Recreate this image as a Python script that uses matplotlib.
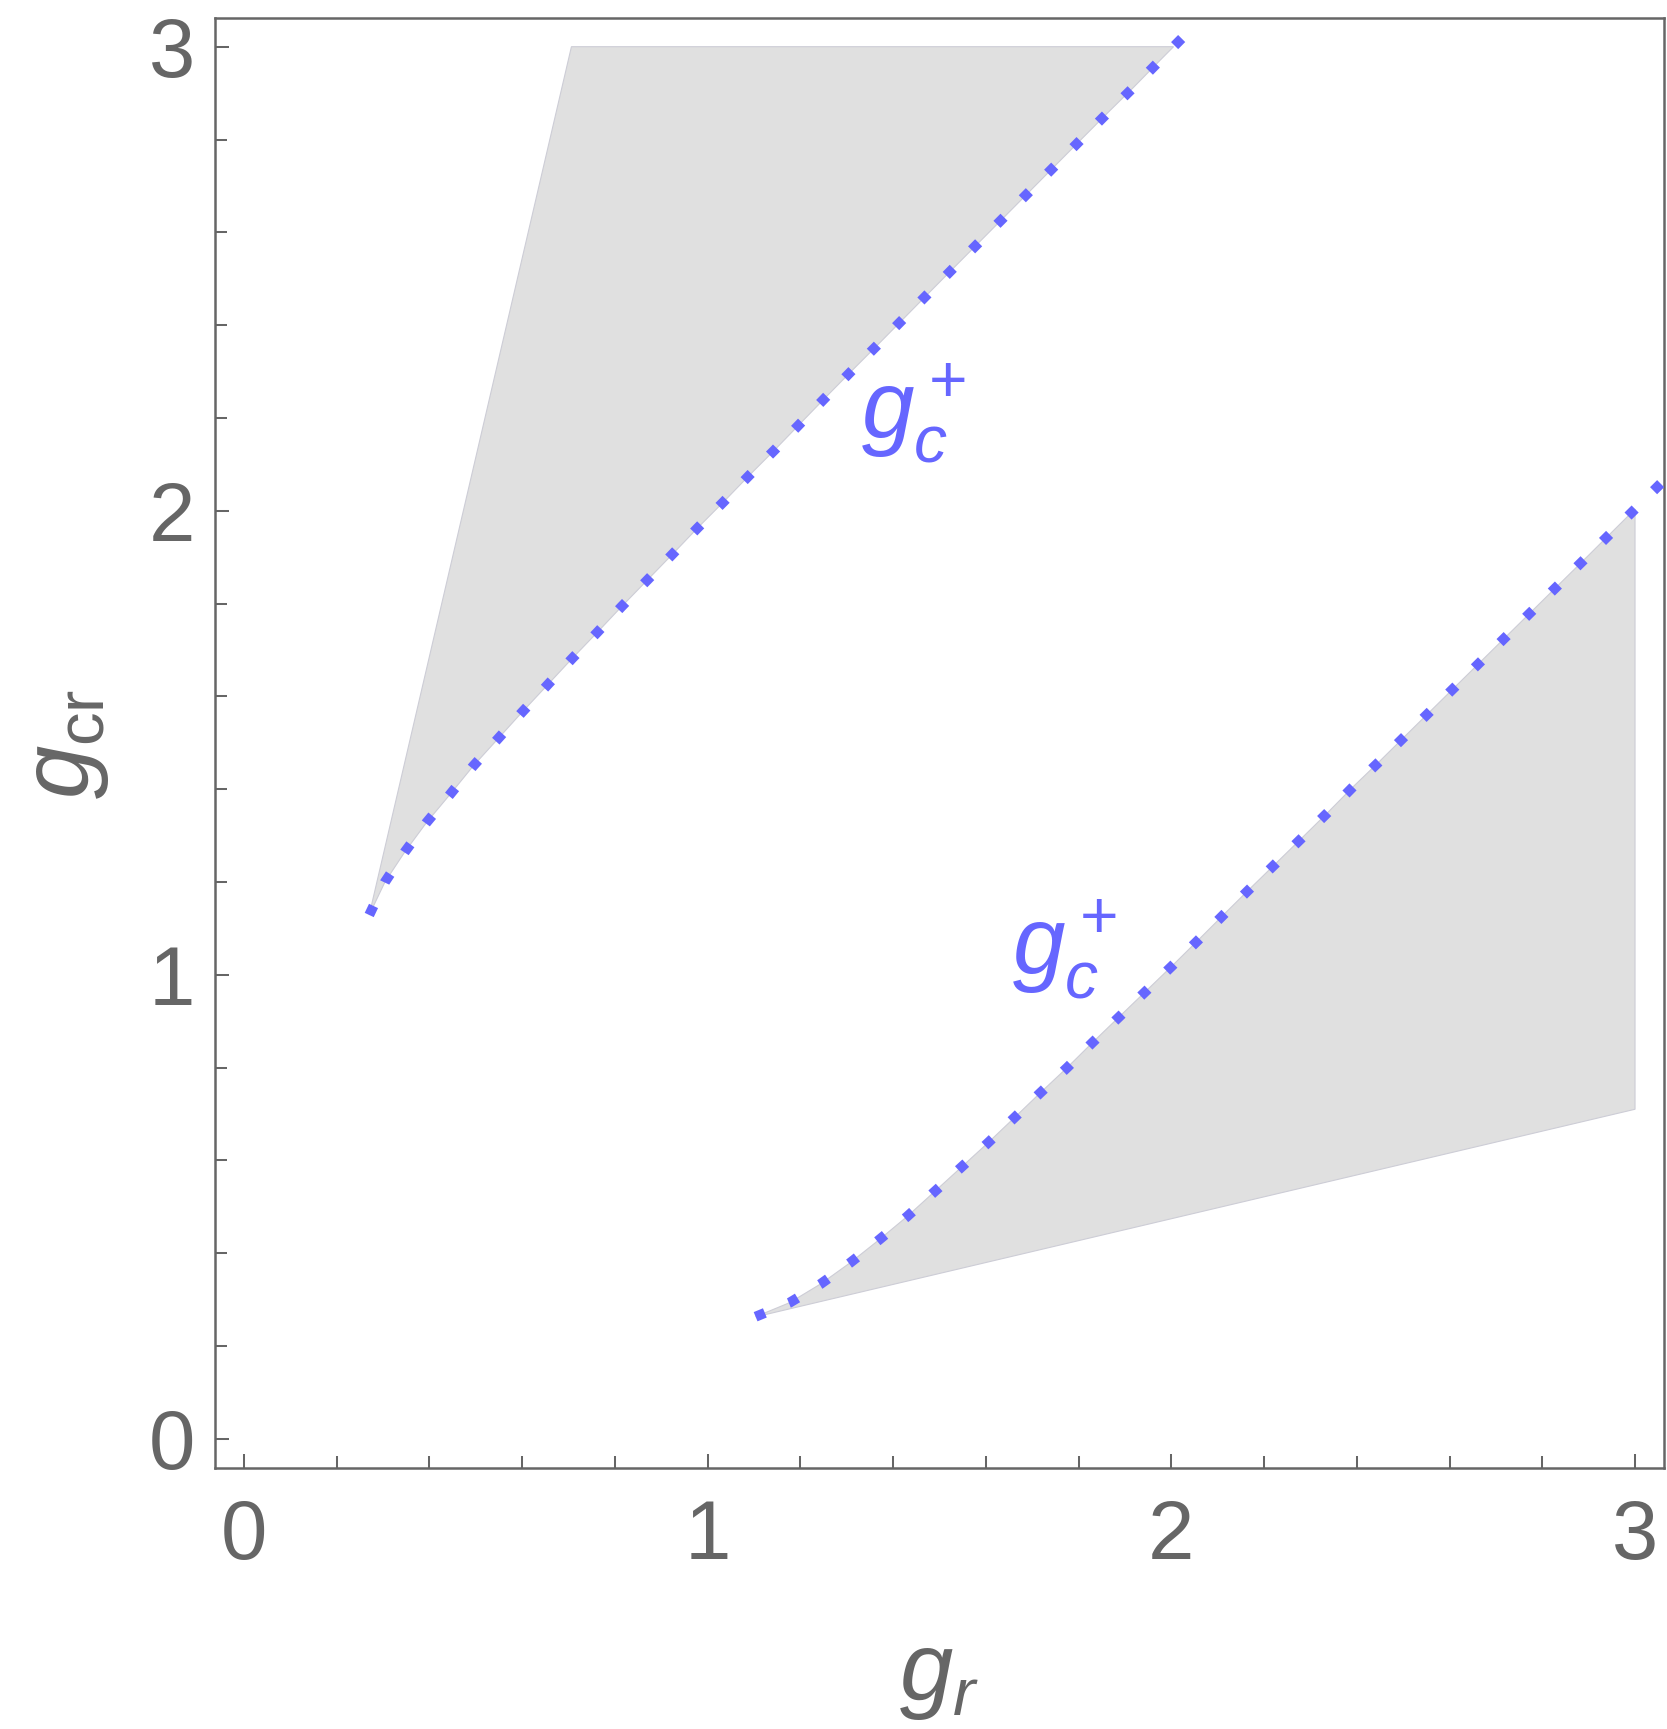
import numpy as np
import matplotlib
matplotlib.use("Agg")
import matplotlib.pyplot as plt
from matplotlib.ticker import MultipleLocator, FixedLocator, FixedFormatter

# ---------------- data ----------------
# upper critical line g_c^+  (g_r, g_cr)
upper_gr = [0.2701, 0.3039, 0.3470, 0.3937, 0.4440, 0.4942, 0.5467, 0.5991,
            0.6530, 0.7069, 0.7608, 0.8147, 0.8692, 0.9239, 0.9784, 1.0345,
            1.0890, 1.1444, 1.1989, 1.2537, 1.3089, 1.3649, 1.4196, 1.4748,
            1.5297, 1.5854, 1.6403, 1.6959, 1.7515, 1.8065, 1.8623, 1.9185,
            1.9735, 2.0291]
upper_gcr = [1.1287, 1.1996, 1.2649, 1.3280, 1.3881, 1.4496, 1.5073, 1.5651,
             1.6228, 1.6806, 1.7366, 1.7937, 1.8498, 1.9060, 1.9629, 2.0192,
             2.0754, 2.1308, 2.1871, 2.2435, 2.2996, 2.3556, 2.4110, 2.4670,
             2.5224, 2.5784, 2.6336, 2.6897, 2.7457, 2.8011, 2.8571, 2.9124,
             2.9685, 3.0245]

# lower critical line g_c^+  (g_r, g_cr)
lower_gr = [1.1034, 1.1767, 1.2435, 1.3075, 1.3692, 1.4296, 1.4877, 1.5460,
            1.6034, 1.6609, 1.7177, 1.7752, 1.8312, 1.9440, 2.0015, 2.0567,
            2.1121, 2.1681, 2.2241, 2.2809, 2.3369, 2.3922, 2.4483, 2.5043,
            2.7000, 2.9000, 3.0600]
lower_gcr = [0.2629, 0.2931, 0.3334, 0.3793, 0.4282, 0.4784, 0.5310, 0.5841,
             0.6366, 0.6912, 0.7457, 0.7996, 0.8550, 0.9634, 1.0188, 1.0733,
             1.1287, 1.1840, 1.2386, 1.2940, 1.3491, 1.4052, 1.4591, 1.5144,
             1.7070, 1.9040, 2.0630]

# straight outer edges of the shaded regions
upper_edge_gr = [0.2701, 0.7062]
upper_edge_gcr = [1.1287, 3.0]
lower_edge_gr = [1.1300, 3.0]
lower_edge_gcr = [0.2688, 0.7100]
region_limit = 3.0

# label anchor points (g_r, g_cr) for the two curve labels
label_gr = [1.444, 1.770]
label_gcr = [2.159, 1.004]

ticks = [0, 1, 2, 3]
tick_labels = ["0", "1", "2", "3"]
curve_label = r"$g_c^+$"
xlabel = r"$g_r$"
ylabel = r"$g_{\mathrm{cr}}$"

# ---------------- style ----------------
plt.rcParams["mathtext.fontset"] = "custom"
plt.rcParams["mathtext.rm"] = "Liberation Sans"
plt.rcParams["mathtext.it"] = "Liberation Sans:italic"
plt.rcParams["mathtext.bf"] = "Liberation Sans:bold"
plt.rcParams["font.family"] = ["Liberation Sans", "DejaVu Sans"]

W, H, DPI = 1667, 1729, 100
gray = "#666666"
blue = "#6666ff"
shade = "#e0e0e0"
edge = "#cdcdd6"

fig = plt.figure(figsize=(W / DPI, H / DPI), dpi=DPI)
ax = fig.add_axes([215 / W, (H - 1467.7) / H, 1449 / W, 1450 / H])
ax.set_xlim(-0.0625, 3.0625)
ax.set_ylim(-0.0625, 3.0625)

# ---------------- shaded regions ----------------
ugr = np.array(upper_gr); ugcr = np.array(upper_gcr)
cut_x = np.interp(region_limit, ugcr, ugr)
m = ugcr < region_limit
poly_x = list(ugr[m]) + [cut_x, upper_edge_gr[1]]
poly_y = list(ugcr[m]) + [region_limit, upper_edge_gcr[1]]
ax.fill(poly_x, poly_y, facecolor=shade, edgecolor=edge, lw=0.8, zorder=1)

lgr = np.array(lower_gr); lgcr = np.array(lower_gcr)
cut_y = np.interp(region_limit, lgr, lgcr)
m = lgr < region_limit
poly_x = list(lgr[m]) + [region_limit, lower_edge_gr[1], lower_edge_gr[0]]
poly_y = list(lgcr[m]) + [cut_y, lower_edge_gcr[1], lower_edge_gcr[0]]
ax.fill(poly_x, poly_y, facecolor=shade, edgecolor=edge, lw=0.8, zorder=1)

# ---------------- dotted critical lines ----------------
for xs, ys in [(upper_gr, upper_gcr), (lower_gr, lower_gcr)]:
    ax.plot(xs, ys, color=blue, lw=7.2, linestyle=(0, (1.0, 2.6)),
            dash_capstyle="butt", solid_joinstyle="miter", zorder=3)

# ---------------- labels on curves ----------------
for gx, gy in zip(label_gr, label_gcr):
    ax.text(gx, gy, curve_label, color=blue, fontsize=68,
            ha="center", va="baseline", zorder=4)

# ---------------- axes styling ----------------
for s in ax.spines.values():
    s.set_color(gray)
    s.set_linewidth(1.8)
ax.xaxis.set_major_locator(FixedLocator(ticks))
ax.yaxis.set_major_locator(FixedLocator(ticks))
ax.xaxis.set_major_formatter(FixedFormatter(tick_labels))
ax.yaxis.set_major_formatter(FixedFormatter(tick_labels))
ax.xaxis.set_minor_locator(MultipleLocator(0.2))
ax.yaxis.set_minor_locator(MultipleLocator(0.2))
ax.tick_params(which="both", direction="in", color=gray, width=1.45,
               top=False, right=False)
ax.tick_params(which="major", length=10.0)
ax.tick_params(which="minor", length=8.6)
ax.tick_params(axis="x", which="major", pad=22, labelsize=60, labelcolor=gray)
ax.tick_params(axis="y", which="major", pad=14, labelsize=60, labelcolor=gray)

fig.text(938.5 / W, 1 - 1700 / H, xlabel, fontsize=69, color=gray,
         ha="center", va="baseline")
fig.text(89 / W, 1 - 743.5 / H, ylabel, fontsize=69, color=gray,
         ha="center", va="baseline", rotation=90, rotation_mode="anchor")

fig.savefig("out.png", dpi=DPI)
